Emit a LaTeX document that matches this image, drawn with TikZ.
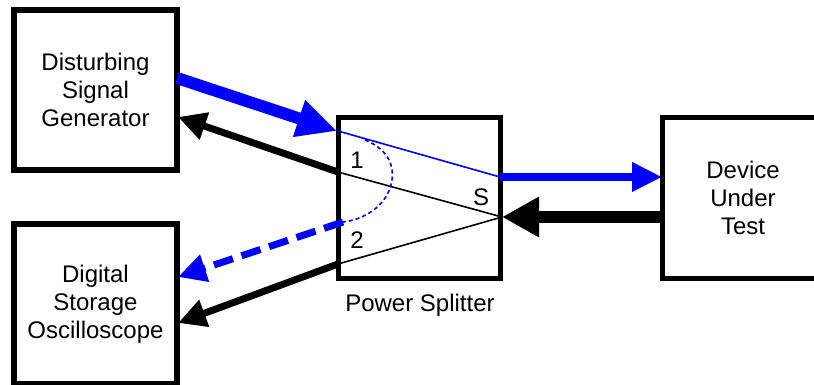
\documentclass[tikz,border=0pt]{standalone}
\usepackage{fontspec}
\setmainfont{Liberation Sans}
\usetikzlibrary{arrows.meta}
\begin{document}
\begin{tikzpicture}[x=1pt,y=-1pt,
  box/.style={draw,line width=6pt,rectangle,inner sep=0pt,minimum width=163pt,minimum height=160pt,align=center,font=\fontsize{24}{28}\selectfont},
  lbl/.style={inner sep=0pt,font=\fontsize{24}{28}\selectfont},
  thin/.style={line width=1.6pt},
  bigtip/.style={-{Triangle[length=40pt,width=36pt]}},
  midtip/.style={-{Triangle[length=28pt,width=27pt]}}
]
\useasboundingbox (0,0) rectangle (814,385);
\clip (0,0) rectangle (814,385);
\node[box] (gen) at (95.5,90) {Disturbing\\Signal\\Generator};
\node[box] (dso) at (95.5,304) {Digital\\Storage\\Oscilloscope};
\node[box,line width=5pt,minimum width=162pt] (split) at (419,198) {};
\node[box,draw=none,line width=0pt,minimum width=162pt] (dut) at (743,198) {Device\\Under\\Test};
\draw[line width=5pt] (dut.north east) ++(20,0) -- (dut.north west) -- (dut.south west) -- ++(190,0);
\node[lbl] (pslbl) at (420,305) {Power Splitter};
\node[lbl] (n1) at (357,160) {1};
\node[lbl] (n2) at (357,240) {2};
\node[lbl] (nS) at (481,197) {S};
% ports
\coordinate (genout) at (177,78);
\coordinate (genin) at (178,117);
\coordinate (dsoblue) at (178,277);
\coordinate (dsoblack) at (178,323);
\coordinate (pin) at (337,131);
\coordinate (pinb) at (338,131);
\coordinate (p1) at (338,172);
\coordinate (p2) at (338,264);
\coordinate (p2b) at (343,222);
\coordinate (sblue) at (500,177);
\coordinate (s) at (502,217);
\coordinate (dutblue) at (662,177);
\coordinate (dutout) at (662,217);
% blue path
\draw[blue,line width=12pt,bigtip] (genout) -- (pin);
\draw[blue,thin] (pinb) -- (sblue);
\draw[blue,line width=7pt,-{Triangle[length=30pt,width=28pt]}] (sblue) -- (dutblue);
% black return
\draw[line width=12pt,-{Triangle[length=37pt,width=38pt]}] (dutout) -- (s);
\draw[thin] (s) -- (p1);
\draw[thin] (s) -- (p2);
\draw[line width=7pt,midtip] (p1) -- (genin);
\draw[line width=7pt,midtip] (p2) -- (dsoblack);
% leakage
\draw[blue,line width=1.6pt,dash pattern=on 4pt off 3pt] (365,140) .. controls (390,150) and (394,168) .. (392,180) .. controls (388,207) and (362,220) .. (p2b);
\draw[blue,line width=7pt,dash pattern=on 20pt off 9pt,midtip] (p2b) -- (dsoblue);
\end{tikzpicture}
\end{document}
